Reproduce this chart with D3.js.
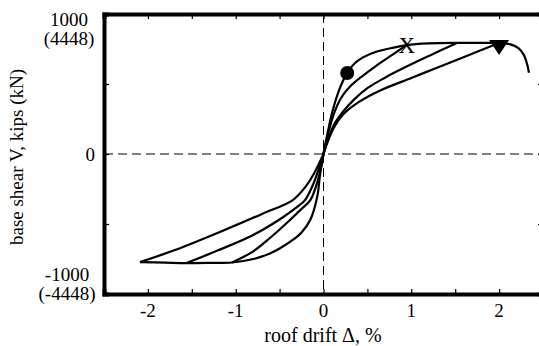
<!DOCTYPE html>
<html><head><meta charset="utf-8">
<script src="https://cdn.jsdelivr.net/npm/d3@7"></script>
<style>body{margin:0;background:#fff}svg{display:block}</style>
</head><body>
<svg id="c" width="539" height="346"></svg>
<script>
// ---- data (drift %, base shear kips) ----
const xTickValues = [-2, -1, 0, 1, 2];
const xMinorTicks = [-2.5, -2, -1.5, -1, -0.5, 0, 0.5, 1, 1.5, 2, 2.5];
const yTickValues = [-500, 0, 500];
const yTickLabelTop = ["1000", "(4448)"];
const yTickLabelBottom = ["-1000", "(-4448)"];
const envelopePos = [[0,0],[0.05,160],[0.1,300],[0.18,460],[0.27,579],[0.35,645],[0.45,690],[0.6,730],[0.8,760],[0.95,778],[1.2,790],[1.52,794],[1.8,794],[2.0,793],[2.12,785],[2.22,757],[2.28,710],[2.32,640],[2.34,580]];
const unloadPos1 = [[0.95,780],[0.8,715],[0.6,630],[0.45,560],[0.3,480],[0.2,400],[0.12,290],[0.05,140],[0,0]];
const unloadPos2 = [[1.52,793],[1.2,700],[0.9,610],[0.7,545],[0.5,470],[0.35,390],[0.22,300],[0.12,210],[0.05,100],[0,0]];
const unloadPos3 = [[2.0,793],[1.63,700],[1.3,618],[1.0,543],[0.64,452],[0.4,370],[0.22,280],[0.12,190],[0.05,90],[0,0]];
const envelopeNeg = [[0,0],[-0.04,-150],[-0.07,-300],[-0.15,-470],[-0.25,-560],[-0.35,-614],[-0.5,-675],[-0.61,-710],[-0.8,-750],[-1.04,-775],[-1.3,-778],[-1.56,-779],[-1.8,-776],[-2.09,-772]];
const unloadNeg1 = [[-2.09,-772],[-1.7,-688],[-1.18,-557],[-0.7,-428],[-0.35,-329],[-0.2,-230],[-0.1,-130],[0,0]];
const unloadNeg2 = [[-1.56,-779],[-1.2,-688],[-0.8,-578],[-0.5,-468],[-0.3,-378],[-0.21,-329],[-0.12,-220],[-0.05,-100],[0,0]];
const unloadNeg3 = [[-1.04,-775],[-0.8,-695],[-0.61,-600],[-0.4,-482],[-0.25,-392],[-0.15,-329],[-0.08,-220],[-0.03,-100],[0,0]];
const circleMarker = [[0.27,579]];
const xMarker = [[0.95,780]];
const triangleMarker = [[2.0,793]];

// ---- drawing ----
const svg = d3.select("#c");
const x = d3.scaleLinear().domain([-2.5, 2.5]).range([104, 543]);
const y = d3.scaleLinear().domain([-1000, 1000]).range([294, 14]);
const font = "'Liberation Serif','Times New Roman',serif";

// dashed zero lines
svg.append("line").attr("x1", x(-2.5)).attr("x2", x(2.5)).attr("y1", y(0)).attr("y2", y(0))
  .attr("stroke", "#000").attr("stroke-width", 1).attr("stroke-dasharray", "9,5");
svg.append("line").attr("x1", x(0)).attr("x2", x(0)).attr("y1", y(1000)).attr("y2", y(-1000))
  .attr("stroke", "#000").attr("stroke-width", 1).attr("stroke-dasharray", "9,5");

// curves
const line = d3.line().x(d => x(d[0])).y(d => y(d[1])).curve(d3.curveCatmullRom.alpha(0.5));
const curves = [envelopePos, unloadPos1, unloadPos2, unloadPos3, envelopeNeg, unloadNeg1, unloadNeg2, unloadNeg3];
svg.append("g").selectAll("path").data(curves).join("path")
  .attr("d", line).attr("fill", "none").attr("stroke", "#000").attr("stroke-width", 2.2)
  .attr("stroke-linejoin", "round");

// markers
svg.selectAll(".circ").data(circleMarker).join("circle").attr("class", "circ")
  .attr("cx", d => x(d[0])).attr("cy", d => y(d[1])).attr("r", 7).attr("fill", "#000");
svg.selectAll(".xm").data(xMarker).join("text").attr("class", "xm")
  .attr("x", d => x(d[0])).attr("y", d => y(d[1]) + 8).attr("text-anchor", "middle")
  .attr("font-family", font).attr("font-size", 23).text("X");
svg.selectAll(".tri").data(triangleMarker).join("path").attr("class", "tri")
  .attr("d", d => { const cx = x(d[0]), cy = y(d[1]); return `M${cx-10},${cy-3}L${cx+10},${cy-3}L${cx},${cy+12}Z`; })
  .attr("fill", "#000");

// axes frame
const axB = d3.axisBottom(x).tickValues(xMinorTicks).tickSize(-5).tickFormat("");
const axT = d3.axisTop(x).tickValues(xMinorTicks).tickSize(-5).tickFormat("");
const axL = d3.axisLeft(y).tickValues(yTickValues).tickSize(-5).tickFormat("");
const axR = d3.axisRight(y).tickValues(yTickValues).tickSize(-5).tickFormat("");
[[axB, `translate(0,${y(-1000)})`], [axT, `translate(0,${y(1000)})`], [axL, `translate(${x(-2.5)},0)`], [axR, `translate(${x(2.5)},0)`]]
  .forEach(([ax, tr]) => {
    const g = svg.append("g").attr("transform", tr).call(ax);
    g.select(".domain").attr("stroke", "#000").attr("stroke-width", 4);
    g.selectAll(".tick line").attr("stroke", "#000").attr("stroke-width", 1.2);
  });

// tick labels
svg.append("g").selectAll("text").data(xTickValues).join("text")
  .attr("x", d => x(d)).attr("y", 317).attr("text-anchor", "middle")
  .attr("font-family", font).attr("font-size", 19).text(d => d);
svg.append("text").attr("x", 95).attr("y", y(0) + 7).attr("text-anchor", "end")
  .attr("font-family", font).attr("font-size", 19).text("0");
svg.append("g").selectAll("text").data(yTickLabelTop).join("text")
  .attr("x", 69).attr("y", (d, i) => 26 + i * 19).attr("text-anchor", "middle")
  .attr("font-family", font).attr("font-size", 19).text(d => d);
svg.append("g").selectAll("text").data(yTickLabelBottom).join("text")
  .attr("x", 67).attr("y", (d, i) => 281 + i * 19).attr("text-anchor", "middle")
  .attr("font-family", font).attr("font-size", 19).text(d => d);

// axis titles
svg.append("text").attr("x", 323).attr("y", 342).attr("text-anchor", "middle")
  .attr("font-family", font).attr("font-size", 20).text("roof drift Δ, %");
svg.append("text").attr("transform", "translate(23,157) rotate(-90)").attr("text-anchor", "middle")
  .attr("font-family", font).attr("font-size", 19).text("base shear V, kips (kN)");
</script>
</body></html>
